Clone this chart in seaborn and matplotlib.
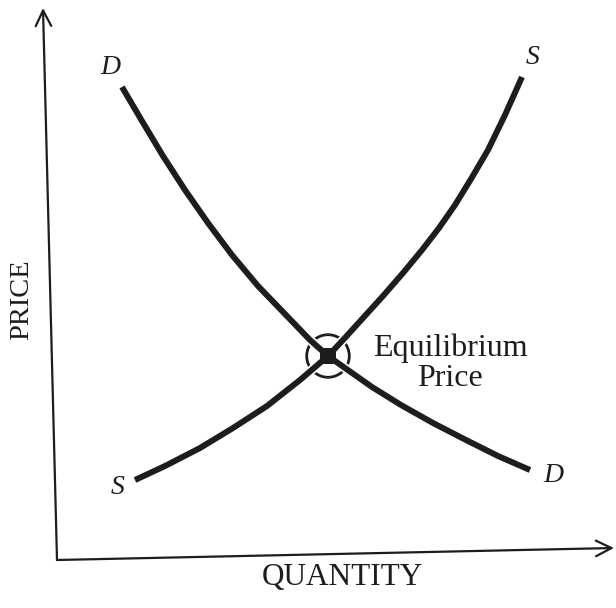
import matplotlib
matplotlib.use('Agg')
import matplotlib.pyplot as plt
import matplotlib.patheffects as pe
import seaborn as sns
import numpy as np
import pandas as pd

# curve points (quantity, price units, origin at the axes corner)
demand_q = [1.30, 1.70, 2.12, 2.56, 3.02, 3.50, 4.02, 4.56, 5.06, 5.42, 5.76, 6.30, 6.88, 7.52, 8.18, 8.82, 9.46]
demand_p = [9.46, 8.78, 8.08, 7.40, 6.74, 6.10, 5.48, 4.92, 4.40, 4.08, 3.84, 3.46, 3.10, 2.74, 2.40, 2.08, 1.80]

supply_q = [1.56, 2.16, 2.86, 3.52, 4.20, 4.86, 5.42, 5.72, 6.12, 6.52, 6.92, 7.30, 7.64, 7.96, 8.28, 8.62, 8.96, 9.30]
supply_p = [1.60, 1.88, 2.24, 2.64, 3.08, 3.60, 4.08, 4.40, 4.84, 5.28, 5.74, 6.20, 6.64, 7.10, 7.62, 8.20, 8.90, 9.66]

eq_q = [5.42]
eq_p = [4.08]

x_label = 'QUANTITY'
y_label = 'PRICE'
eq_label = 'Equilibrium\nPrice'

ink = '#1e1c1d'

sns.set_style('white')
plt.rcParams['font.family'] = ['Liberation Serif', 'DejaVu Serif']

fig = plt.figure(figsize=(6.16, 6.08), dpi=100)
ax = fig.add_axes([0, 0, 1, 1])
ax.set_xlim(-1.14, 11.18)
ax.set_ylim(-0.96, 11.2)
ax.axis('off')

demand = pd.DataFrame({'q': demand_q, 'p': demand_p})
supply = pd.DataFrame({'q': supply_q, 'p': supply_p})

halo = [pe.Stroke(linewidth=6.8, foreground='white'), pe.Normal()]

# equilibrium ring first, curves over it (white halo breaks the ring)
sns.scatterplot(x=eq_q, y=eq_p, ax=ax, s=940, marker='o', facecolor='none',
                edgecolor=ink, linewidth=2.0, zorder=2)

sns.lineplot(data=demand, x='q', y='p', sort=False, estimator=None, ax=ax,
             color=ink, lw=4.3, solid_capstyle='butt', zorder=3, path_effects=halo)
sns.lineplot(data=supply, x='q', y='p', sort=False, estimator=None, ax=ax,
             color=ink, lw=4.3, solid_capstyle='butt', zorder=3, path_effects=halo)

sns.scatterplot(x=eq_q, y=eq_p, ax=ax, s=135, marker='s', color=ink,
                linewidth=0, zorder=4)

# axes with open arrow heads
arrow = dict(arrowstyle='->', lw=1.6, color=ink, mutation_scale=28, shrinkA=0, shrinkB=0)
ax.annotate('', xy=(-0.28, 11.04), xytext=(0, 0), arrowprops=arrow)
ax.annotate('', xy=(11.14, 0.24), xytext=(0, 0), arrowprops=arrow)

# curve labels
lab = dict(fontsize=20, style='italic', color=ink, ha='center', va='center')
ax.text(1.06, 9.86, 'D', **lab)
ax.text(9.52, 10.06, 'S', **lab)
ax.text(1.22, 1.46, 'S', **lab)
ax.text(9.92, 1.68, 'D', **lab)

ax.text(7.86, 3.94, eq_label, fontsize=23, color=ink, ha='center', va='center',
        multialignment='center', linespacing=1.05)

ax.text(5.7, -0.34, x_label, fontsize=22.5, color=ink, ha='center', va='center')
ax.text(-0.7, 5.2, y_label, fontsize=20.5, color=ink, ha='center', va='center',
        rotation=90)

if ax.get_legend() is not None:
    ax.get_legend().remove()

plt.savefig('out.png', dpi=100)
